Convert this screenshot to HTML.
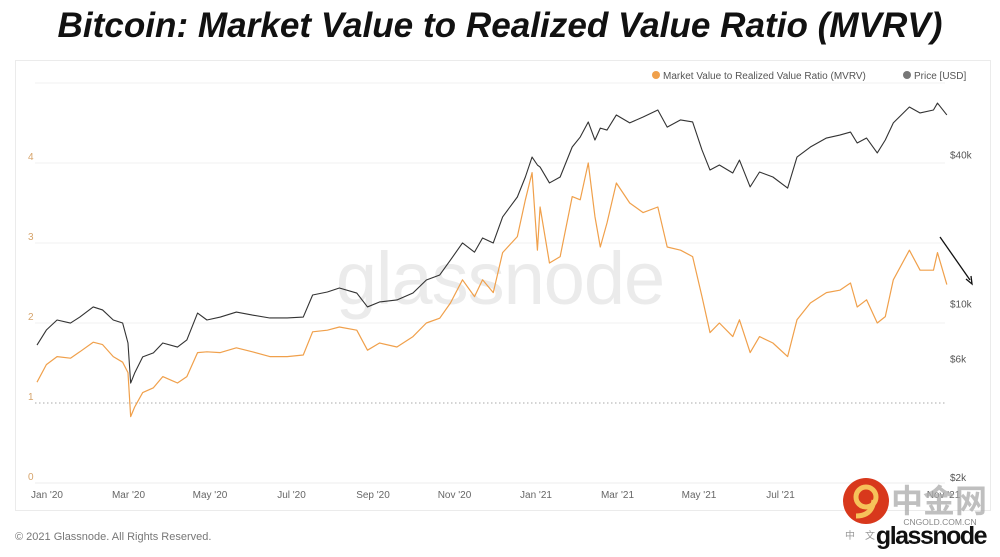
<!DOCTYPE html>
<html><head><meta charset="utf-8"><style>
body{margin:0;background:#fff;width:1000px;height:552px;overflow:hidden;font-family:"Liberation Sans",sans-serif}
</style></head><body>
<svg id="chart" width="1000" height="552" viewBox="0 0 1000 552" xmlns="http://www.w3.org/2000/svg" font-family="Liberation Sans, sans-serif">
<text x="500" y="37" text-anchor="middle" font-size="35" font-weight="bold" font-style="italic" fill="#111" textLength="885" lengthAdjust="spacingAndGlyphs">Bitcoin: Market Value to Realized Value Ratio (MVRV)</text>
<rect x="15.5" y="60.5" width="975" height="450" fill="#fff" stroke="#ebebeb"/>
<text x="500" y="304" text-anchor="middle" font-size="74" fill="#ebebeb" letter-spacing="-1">glassnode</text>
<g id="grid"></g><g id="axes"></g><g id="series"></g>
<g font-size="10" fill="#555">
<circle cx="656" cy="75" r="4" fill="#f0a04b"/>
<text x="663" y="79">Market Value to Realized Value Ratio (MVRV)</text>
<circle cx="907" cy="75" r="4" fill="#777"/>
<text x="914" y="79">Price [USD]</text>
</g>
<g stroke="#111" stroke-width="1.3">
<line x1="940" y1="237" x2="970" y2="280"/>
<path d="M966 279 L972 284 L971 276" fill="none"/>
</g>
<text x="15" y="540" font-size="11" fill="#777">© 2021 Glassnode. All Rights Reserved.</text>
<g>
<circle cx="866" cy="501" r="23" fill="#d8381c"/>
<circle cx="866" cy="497" r="10" fill="none" stroke="#f6c25a" stroke-width="5"/>
<path d="M874 500 Q872 516 856 516" fill="none" stroke="#f6c25a" stroke-width="5"/>
<text x="939" y="512" text-anchor="middle" font-size="32" font-weight="bold" fill="#aaa" opacity="0.75" font-family="Noto Sans CJK SC, sans-serif">中金网</text>
<text x="940" y="525" text-anchor="middle" font-size="8.5" fill="#888">CNGOLD.COM.CN</text>
<text x="845" y="539" font-size="10" fill="#999" font-family="Noto Sans CJK SC, sans-serif">中　文</text>
<text x="931" y="544" text-anchor="middle" font-size="25" font-weight="bold" fill="#111" letter-spacing="-1.5">glassnode</text>
</g>
</svg>
<script>
const days = [0,7,15,25,32,42,49,57,64,68,70,73,79,87,94,105,112,120,127,137,149,161,174,187,199,206,217,226,239,247,256,269,281,291,301,309,318,327,333,341,348,359,365,370,374,376,383,391,400,406,412,417,421,426,433,443,453,464,471,481,490,497,503,510,520,525,533,540,550,561,568,578,590,600,608,613,620,628,634,640,652,660,670,673,680];
const mvrv = [1.26,1.48,1.58,1.56,1.64,1.76,1.73,1.58,1.51,1.38,0.83,0.95,1.13,1.19,1.33,1.25,1.33,1.63,1.64,1.63,1.69,1.64,1.58,1.58,1.60,1.89,1.91,1.95,1.91,1.66,1.75,1.70,1.83,2.00,2.06,2.25,2.54,2.33,2.54,2.38,2.88,3.08,3.54,3.88,2.91,3.45,2.75,2.83,3.58,3.54,4.00,3.33,2.95,3.25,3.75,3.50,3.38,3.45,2.95,2.91,2.83,2.33,1.88,2.00,1.83,2.04,1.63,1.83,1.75,1.58,2.04,2.25,2.38,2.41,2.50,2.20,2.29,2.00,2.08,2.54,2.91,2.66,2.66,2.88,2.48];
const price = [7130,8200,9000,8750,9250,10160,9880,9000,8750,7270,5010,5500,6390,6630,7270,7000,7480,9600,9000,9250,9690,9420,9170,9170,9250,11350,11670,12110,11560,10160,10640,10840,11560,13050,13670,15700,18400,16900,19270,18400,23440,28200,33950,40850,37950,37240,32130,33950,44850,49200,56600,47860,53460,52480,60390,56100,59290,63240,53950,57680,56600,43650,36220,37950,35240,39720,30970,35560,33950,30620,40850,44850,48750,50120,51520,46560,48750,42460,47860,56100,65010,61520,63240,67450,60390];
const leftTicks = [0,1,2,3,4];
const rightTicks = [2000,6000,10000,40000];
const rightTickLabels = ['$2k','$6k','$10k','$40k'];
const xTickLabels = ["Jan '20","Mar '20","May '20","Jul '20","Sep '20","Nov '20","Jan '21","Mar '21","May '21","Jul '21","Sep '21","Nov '21"];

const NS='http://www.w3.org/2000/svg';
const xS = d => 37 + 1.338*d;
const yL = v => 483 - 80*v;
const yR = p => 482 - 248*(Math.log10(p) - 3.301);
const xLabel = i => 47 + 81.5*i;
function mk(tag, attrs, parent){const e=document.createElementNS(NS,tag);for(const k in attrs)e.setAttribute(k,attrs[k]);parent.appendChild(e);return e;}
const grid=document.getElementById('grid'), axes=document.getElementById('axes'), series=document.getElementById('series');
[2,3,4,5].forEach(v=>{const l=mk('line',{x1:35,x2:945,y1:yL(v),y2:yL(v),stroke:'#f0f0f0'},grid);

});
const one=mk('line',{x1:35,x2:945,y1:yL(1),y2:yL(1),stroke:'#aaa','stroke-dasharray':'1.5 2.5'},grid);


const base=mk('line',{x1:35,x2:945,y1:yL(0),y2:yL(0),stroke:'#eee'},axes);


leftTicks.forEach(v=>{const t=mk('text',{x:28,y:yL(v)-3,'font-size':10,fill:'#d6a36a'},axes);t.textContent=v;

});
rightTicks.forEach((p,i)=>{const t=mk('text',{x:950,y:yR(p)-1,'font-size':10,fill:'#555'},axes);t.textContent=rightTickLabels[i];

});
xTickLabels.forEach((lab,i)=>{const t=mk('text',{x:xLabel(i),y:498,'font-size':10,fill:'#666','text-anchor':'middle'},axes);t.textContent=lab;

});
const pp=mk('polyline',{points:days.map((d,i)=>xS(d)+','+yR(price[i])).join(' '),fill:'none',stroke:'#333','stroke-width':1.1,'stroke-linejoin':'round'},series);


const mp=mk('polyline',{points:days.map((d,i)=>xS(d)+','+yL(mvrv[i])).join(' '),fill:'none',stroke:'#f0a04b','stroke-width':1.2,'stroke-linejoin':'round'},series);


</script>
</body></html>
